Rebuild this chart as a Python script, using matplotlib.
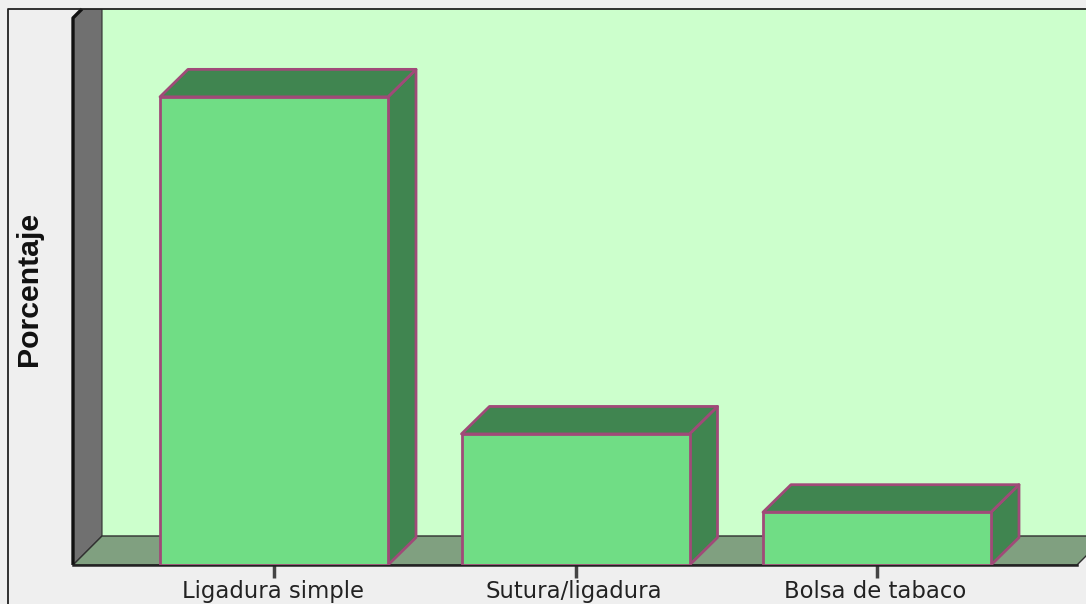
import matplotlib
matplotlib.use("Agg")
import matplotlib.pyplot as plt
from matplotlib.patches import Polygon, Rectangle
from matplotlib.lines import Line2D
from matplotlib.transforms import ScaledTranslation

categories = ["Ligadura simple", "Sutura/ligadura", "Bolsa de tabaco"]
percent = [71.8, 20.1, 8.1]
ylabel = "Porcentaje"

W, H = 1086, 604
PX_CAT = 301.5      # pixels per category
PX_PCT = 6.52       # pixels per percent
X0 = 274            # pixel of category 0
BASE = 565          # pixel of 0 %
TOP = 9
LEFT, RIGHT = 73, 1086
bar_w = 228 / PX_CAT
dx_wall, dy_wall = 29 / PX_CAT, 29 / PX_PCT
dx_bar, dy_bar = 28 / PX_CAT, 27.5 / PX_PCT

BG = "#EFEFEF"; WALL = "#CCFFCC"; SIDE = "#707070"; FLOOR = "#80A080"
FACE = "#70DD85"; DARK = "#408550"; EDGE = "#A04A78"; INK = "#222222"

fig = plt.figure(figsize=(W / 100, H / 100), dpi=100, facecolor=BG)
ax = fig.add_axes([LEFT / W, 1 - BASE / H, (RIGHT - LEFT) / W, (BASE - TOP) / H])
ax.set_xlim((LEFT - X0) / PX_CAT, (RIGHT - X0) / PX_CAT)
ax.set_ylim(0, (BASE - TOP) / PX_PCT)
ax.set_facecolor(BG)
xmin, xmax = ax.get_xlim()
ymax = ax.get_ylim()[1]
wall_top = (BASE - 18) / PX_PCT
floor_end = (1077 - X0) / PX_CAT
corner = 9 / 29   # share of the wall's depth visible above its front top

# back wall, side wall, floor
ax.add_patch(Rectangle((xmin + dx_wall, dy_wall), xmax - xmin, ymax, fc=WALL, ec="none", zorder=1))
ax.add_patch(Polygon([(xmin, 0), (xmin + dx_wall, dy_wall), (xmin + dx_wall, wall_top + dy_wall), (xmin, wall_top)],
                     fc=SIDE, ec="#303030", lw=0.8, zorder=2))
ax.add_patch(Polygon([(xmin, 0), (floor_end, 0), (floor_end + dx_wall, dy_wall), (xmin + dx_wall, dy_wall)],
                     fc=FLOOR, ec="#303030", lw=1.0, zorder=2))
ax.plot([xmin, xmin, xmin + dx_wall * corner], [0, wall_top, wall_top + dy_wall * corner], color="#111111", lw=2.4,
        zorder=3, solid_capstyle="butt", clip_on=False)
ax.plot([xmin, floor_end], [0, 0], color="#222222", lw=1.8, zorder=3, clip_on=False)

# bars
for i, v in enumerate(percent):
    l, r = i - bar_w / 2, i + bar_w / 2
    style = dict(ec=EDGE, lw=2.0, joinstyle="round", zorder=5 + i)
    ax.add_patch(Polygon([(r, 0), (r + dx_bar, dy_bar), (r + dx_bar, v + dy_bar), (r, v)], fc=DARK, **style))
    ax.add_patch(Polygon([(l, v), (l + dx_bar, v + dy_bar), (r + dx_bar, v + dy_bar), (r, v)], fc=DARK, **style))
    ax.add_patch(Rectangle((l, 0), bar_w, v, fc=FACE, **style))

for s in ax.spines.values():
    s.set_visible(False)
ax.set_yticks([])
ax.set_xticks(range(len(categories)), categories, fontfamily="DejaVu Sans", fontsize=16.4, color=INK)
ax.tick_params(axis="x", length=9.5, width=2.5, color="#444444", pad=1.5)
shift = ScaledTranslation(-1.5 / 100, 0, fig.dpi_scale_trans)
for lab in ax.get_xticklabels():
    lab.set_transform(lab.get_transform() + shift)
fig.text(29.5 / W, 1 - 288.5 / H, ylabel, rotation=90, ha="center", va="center",
         family=["Liberation Sans Narrow", "Liberation Sans"], fontweight="bold", fontsize=21.8, color="#111111")

# outer frame
fig.add_artist(Line2D([8 / W, 8 / W, 1], [0, 1 - 9 / H, 1 - 9 / H], color="#222222", lw=1.3))

fig.savefig("out.png", dpi=100, facecolor=BG)
